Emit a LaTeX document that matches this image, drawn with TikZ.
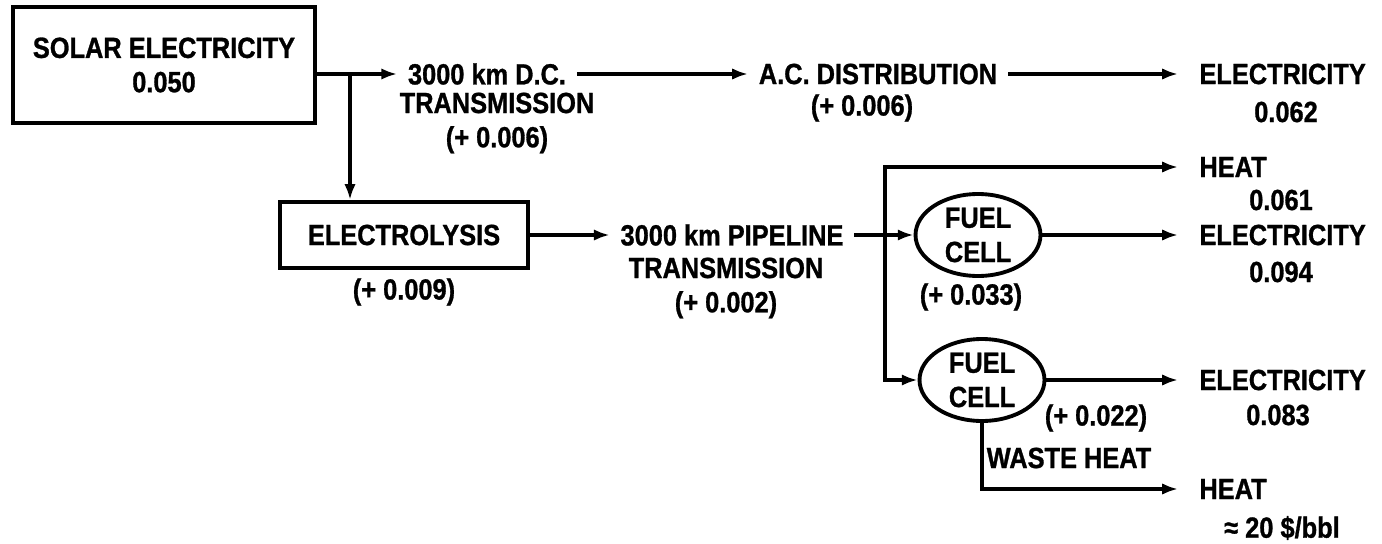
\documentclass[tikz,border=0pt]{standalone}
\usepackage{fontspec}
\setmainfont[FakeStretch=0.87,FakeBold=1]{Liberation Sans}
\usetikzlibrary{arrows.meta,shapes.geometric}

\begin{document}
\begin{tikzpicture}[x=0.02cm,y=-0.02cm,
  every node/.style={font=\fontsize{16.6}{19.5}\selectfont\bfseries},
  box/.style={draw,line width=2.4pt,align=center},
  cell/.style={draw,ellipse,line width=2.2pt,inner sep=0pt,minimum width=2.5cm,minimum height=1.64cm,align=center},
  lbl/.style={inner xsep=6pt,inner ysep=2pt,align=center},
  outlbl/.style={anchor=west,inner xsep=12pt,inner ysep=2pt},
  flow/.style={line width=1.9pt,-{Latex[length=9pt,width=6.5pt]}}]
  \useasboundingbox (0,0) rectangle (1382,544);

  % Source and electrolysis
  \node[box,minimum width=6.04cm,minimum height=2.32cm] (solar) at (164,65) {SOLAR ELECTRICITY\\0.050};
  \node[box,minimum width=4.96cm,minimum height=1.32cm] (elyz) at (404,235) {ELECTROLYSIS};
  \node[lbl] (elyzsub) at (404,292) {(+ 0.009)};

  % Electric path
  \node[lbl] (dc) at (487,74) {3000 km D.C.};
  \node[lbl] (dcsub) at (497,123) {TRANSMISSION\\(+ 0.006)};
  \node[lbl] (ac) at (878,74) {A.C. DISTRIBUTION};
  \node[lbl] (acsub) at (862,108) {(+ 0.006)};
  \node[outlbl] (eleca) at (1178,74) {ELECTRICITY};
  \node[lbl] (vala) at (1286,112) {0.062};

  % Hydrogen path
  \node[lbl] (pipe) at (732,235) {3000 km PIPELINE};
  \node[lbl] (pipesub) at (726,288) {TRANSMISSION\\(+ 0.002)};
  \coordinate (split) at (885,235);
  \node[cell] (fca) at (978,235) {FUEL\\CELL};
  \node[lbl] (fcasub) at (971,297) {(+ 0.033)};
  \node[cell] (fcb) at (982,380) {FUEL\\CELL};
  \node[lbl] (fcbsub) at (1096,418) {(+ 0.022)};
  \node[lbl] (waste) at (1069,458) {WASTE HEAT};

  % Outputs
  \node[outlbl] (heata) at (1178,167) {HEAT};
  \node[lbl] (valb) at (1281,200) {0.061};
  \node[outlbl] (elecb) at (1178,235) {ELECTRICITY};
  \node[lbl] (valc) at (1281,272) {0.094};
  \node[outlbl] (elecc) at (1178,380) {ELECTRICITY};
  \node[lbl] (vald) at (1278,415) {0.083};
  \node[outlbl] (heatb) at (1178,489) {HEAT};
  \node[lbl] (vale) at (1282,528) {≈ 20 \$/bbl};

  % Connectors
  \coordinate (tap) at (350,74);
  \draw[flow] (solar.east |- dc.west) -- (dc.west);
  \draw[flow] (tap) -- (tap |- elyz.north);
  \draw[flow] (dc) -- (ac);
  \draw[flow] (ac) -- (eleca);
  \draw[flow] (elyz) -- (pipe);
  \draw[flow] (pipe) -- (fca);
  \draw[flow] (split) |- (heata);
  \draw[flow] (split) |- (fcb);
  \draw[flow] (fca) -- (elecb);
  \draw[flow] (fcb) -- (elecc);
  \draw[flow] (fcb.south) |- (heatb);
\end{tikzpicture}
\end{document}
